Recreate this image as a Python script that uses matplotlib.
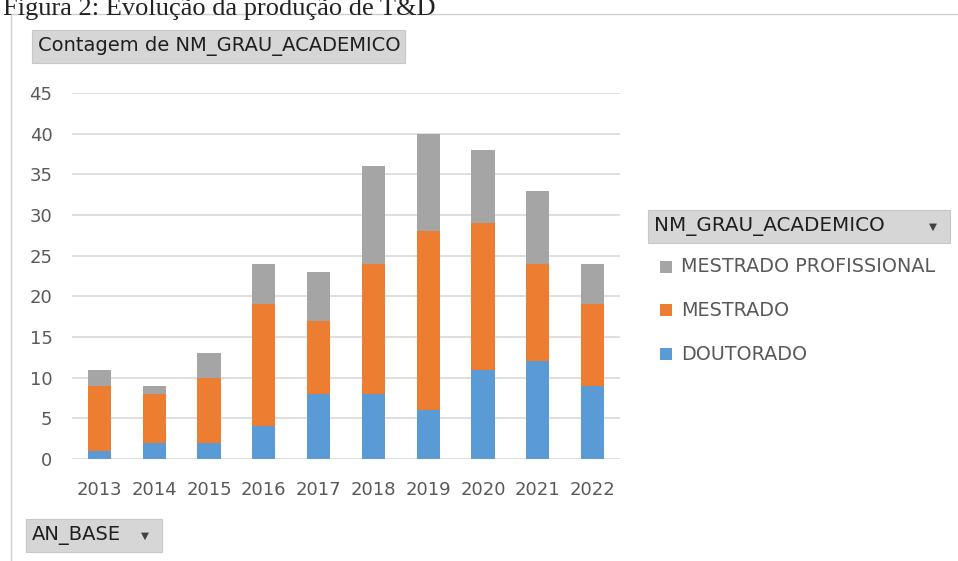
import matplotlib
matplotlib.use("Agg")
import matplotlib.pyplot as plt
from matplotlib.patches import Rectangle
from matplotlib.lines import Line2D

years = ["2013", "2014", "2015", "2016", "2017", "2018", "2019", "2020", "2021", "2022"]
doutorado = [1, 2, 2, 4, 8, 8, 6, 11, 12, 9]
mestrado = [8, 6, 8, 15, 9, 16, 22, 18, 12, 10]
mestrado_prof = [2, 1, 3, 5, 6, 12, 12, 9, 9, 5]
yticks = [0, 5, 10, 15, 20, 25, 30, 35, 40, 45]

W, H = 958, 561
fig = plt.figure(figsize=(W / 100, H / 100), dpi=100)
fig.patch.set_facecolor("white")

def fx(px):
    return px / W

def fy(py):
    return 1 - py / H

font = "DejaVu Sans"
txt_color = "#595959"

ax = fig.add_axes([fx(72), fy(459), fx(620) - fx(72), fy(93) - fy(459)])
x = list(range(len(years)))
c_blue, c_orange, c_gray = "#5B9BD5", "#ED7D31", "#A5A5A5"
bw = 0.42
bottom2 = [a + b for a, b in zip(doutorado, mestrado)]
ax.bar(x, doutorado, width=bw, color=c_blue, zorder=3)
ax.bar(x, mestrado, width=bw, bottom=doutorado, color=c_orange, zorder=3)
ax.bar(x, mestrado_prof, width=bw, bottom=bottom2, color=c_gray, zorder=3)

ax.set_xlim(-0.5, len(years) - 0.5)
ax.set_ylim(0, 45)
ax.set_yticks(yticks)
ax.set_xticks(x)
ax.set_xticklabels(years)
ax.yaxis.grid(True, color="#D9D9D9", linewidth=1.2, zorder=0)
ax.set_axisbelow(True)
for s in ax.spines.values():
    s.set_visible(False)
ax.tick_params(axis="both", length=0, labelsize=13, colors=txt_color)
ax.tick_params(axis="y", pad=14)
ax.tick_params(axis="x", pad=16)
for lab in ax.get_xticklabels() + ax.get_yticklabels():
    lab.set_fontfamily(font)

# frame lines
fig.add_artist(Line2D([fx(11), 1], [fy(14), fy(14)], color="#D0D0D0", lw=1))
fig.add_artist(Line2D([fx(11), fx(11)], [fy(14), 0], color="#D0D0D0", lw=1))

# title (cut at the top edge, as in the source image)
fig.text(fx(3), fy(15), "Figura 2: Evolução da produção de T&D", family="Liberation Serif",
         fontsize=19, color="#222222", va="baseline", ha="left")

def button(x0, y0, x1, y1, label, size, arrow_x=None):
    fig.add_artist(Rectangle((fx(x0), fy(y1)), fx(x1) - fx(x0), fy(y0) - fy(y1),
                             facecolor="#D6D6D6", edgecolor="#C8C8C8", lw=0.8))
    fig.text(fx(x0 + 6), (fy(y0) + fy(y1)) / 2, label, family=font, fontsize=size,
             color="#1F1F1F", va="center", ha="left")
    if arrow_x is not None:
        fig.text(fx(arrow_x), (fy(y0) + fy(y1)) / 2, "▼", family=font, fontsize=7.5,
                 color="#404040", va="center", ha="center")

button(32, 30, 405, 63, "Contagem de NM_GRAU_ACADEMICO", 14)
button(648, 210, 950, 243, "NM_GRAU_ACADEMICO", 14.3, 933)
button(26, 519, 162, 552, "AN_BASE", 14, 145)

# legend
legend_items = [("MESTRADO PROFISSIONAL", c_gray, 267), ("MESTRADO", c_orange, 310), ("DOUTORADO", c_blue, 354)]
for label, col, yy in legend_items:
    fig.add_artist(Rectangle((fx(660), fy(yy + 6)), fx(12), 12 / H, facecolor=col, edgecolor="none"))
    fig.text(fx(681), fy(yy), label, family=font, fontsize=13.8, color=txt_color, va="center", ha="left")

fig.savefig("out.png", dpi=100)
